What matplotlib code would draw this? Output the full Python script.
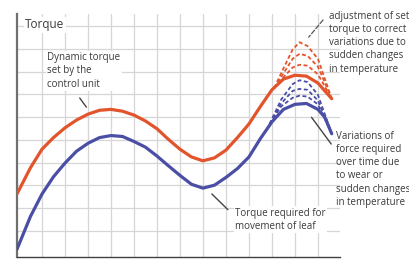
import matplotlib
matplotlib.use("Agg")
import matplotlib.pyplot as plt

plt.rcParams['font.family'] = ['Open Sans', 'DejaVu Sans']

# ---- data (grid units) ----
x_main = [-0.09, 0.5, 1, 1.5, 2, 2.5, 3, 3.5, 4, 4.5, 5, 5.5, 6, 6.5, 7, 7.5,
          8, 8.5, 9, 9.5, 10, 10.5, 11, 11.5, 12, 12.5, 13, 13.3, 13.6]
set_torque = [2.62, 3.78, 4.59, 5.10, 5.53, 5.87, 6.13, 6.30, 6.34, 6.26, 6.09,
              5.83, 5.49, 5.02, 4.59, 4.25, 4.08, 4.21, 4.55, 5.10, 5.70, 6.47,
              7.20, 7.67, 7.84, 7.80, 7.50, 7.15, 6.81]
req_torque = [0.19, 1.64, 2.62, 3.38, 3.98, 4.50, 4.85, 5.10, 5.19, 5.15, 4.93,
              4.68, 4.29, 3.86, 3.44, 3.05, 2.88, 3.01, 3.35, 3.74, 4.25, 5.06,
              5.79, 6.34, 6.56, 6.60, 6.34, 5.99, 5.27]

x_red_adj = [11.1, 11.5, 11.9, 12.2, 12.55, 13.0, 13.6]
red_adj = [
    [7.28, 8.14, 8.97, 9.29, 9.12, 8.56, 6.81],
    [7.28, 7.92, 8.56, 8.78, 8.69, 8.22, 6.81],
    [7.28, 7.75, 8.18, 8.30, 8.26, 7.88, 6.81],
]
x_blue_var = [10.9, 11.4, 11.9, 12.2, 12.55, 13.0, 13.6]
blue_var = [
    [5.70, 6.77, 7.45, 7.62, 7.54, 6.98, 5.27],
    [5.70, 6.60, 7.15, 7.24, 7.20, 6.73, 5.27],
    [5.70, 6.47, 6.85, 6.94, 6.90, 6.56, 5.27],
]

RED = '#e2552c'
BLUE = '#4a4fa5'
TXT = '#3a3a3a'

fig = plt.figure(figsize=(4.10, 2.63), dpi=100)
W, H = 410, 263
ax = fig.add_axes([17 / W, (H - 257) / H, (340 - 17) / W, (257 - 14) / H])
ax.set_xlim(-0.087, 13.96)
ax.set_ylim(-0.145, 10.53)

ax.set_xticks(range(1, 14))
ax.set_yticks(range(1, 11))
ax.tick_params(length=0, labelbottom=False, labelleft=False)
ax.grid(True, color='#d6d6d6', lw=0.9)
ax.set_axisbelow(True)
for s in ['top', 'right']:
    ax.spines[s].set_visible(False)
ax.spines['left'].set_color('#707070')
ax.spines['left'].set_linewidth(1.6)
ax.spines['bottom'].set_color('#404040')
ax.spines['bottom'].set_linewidth(1.0)

# variation arcs
for ys in red_adj:
    ax.plot(x_red_adj, ys, color=RED, lw=1.3, ls=(0, (2.2, 1.4)), zorder=3,
            dash_joinstyle='round')
for ys in blue_var:
    ax.plot(x_blue_var, ys, color=BLUE, lw=1.3, ls=(0, (2.2, 1.4)), zorder=3,
            dash_joinstyle='round')

ax.plot(x_main, set_torque, color=RED, lw=2.3, solid_capstyle='round',
        solid_joinstyle='round', zorder=4)
ax.plot(x_main, req_torque, color=BLUE, lw=2.3, solid_capstyle='round',
        solid_joinstyle='round', zorder=4)

bb = dict(facecolor='white', edgecolor='none', pad=1.0)
fs = 7.0
ls = 1.28
ax.text(0.26, 10.06, 'Torque', fontsize=8.5, color=TXT, ha='left', va='center',
        bbox=bb, zorder=5)
ax.text(1.22, 8.85, 'Dynamic torque\nset by the\ncontrol unit', fontsize=fs,
        color=TXT, ha='left', va='top', linespacing=ls, bbox=bb, zorder=5)
ax.annotate('', xy=(3.0, 6.34), xytext=(2.57, 6.94),
            arrowprops=dict(arrowstyle='-', color='#444444', lw=1.0))

ax.text(9.39, 2.02, 'Torque required for\nmovement of leaf', fontsize=fs,
        color=TXT, ha='left', va='top', linespacing=ls, bbox=bb, zorder=5)
ax.annotate('', xy=(8.30, 2.71), xytext=(9.17, 1.85),
            arrowprops=dict(arrowstyle='-', color='#444444', lw=1.0))

ax.text(13.80, 5.40, 'Variations of\nforce required\nover time due\nto wear or\n'
        'sudden changes\nin temperature', fontsize=fs, color=TXT, ha='left',
        va='top', linespacing=ls, zorder=5)
ax.annotate('', xy=(12.65, 6.09), xytext=(13.65, 4.72),
            arrowprops=dict(arrowstyle='-', color='#444444', lw=1.0))

ax.text(13.50, 10.68, 'adjustment of set\ntorque to correct\nvariations due to\n'
        'sudden changes\nin temperature', fontsize=fs, color=TXT, ha='left',
        va='top', linespacing=ls, zorder=5, clip_on=False)
ax.annotate('', xy=(12.52, 9.42), xytext=(13.30, 10.36),
            arrowprops=dict(arrowstyle='-', color='#555555', lw=0.9, ls='--'),
            annotation_clip=False)

fig.savefig('out.png', dpi=100)
